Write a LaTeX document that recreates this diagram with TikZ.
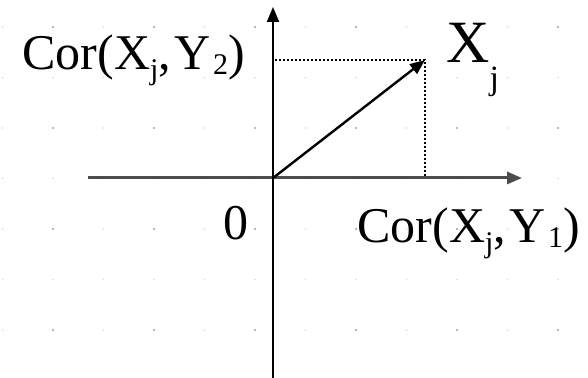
\documentclass[tikz,border=0pt]{standalone}
\usepackage{fontspec}
\setmainfont{Liberation Serif}
\usetikzlibrary{arrows.meta}
\newcommand{\lowsub}[2][0.2em]{\raisebox{-#1}{\fontsize{15}{15}\selectfont #2}}

\begin{document}
\begin{tikzpicture}[>={Triangle[length=7.5pt,width=6pt]},x=0.5pt,y=0.5pt,
  axisline/.style={->,line width=1pt},
  guide/.style={line width=0.7pt,dash pattern=on 1pt off 1pt},
  lbl/.style={inner sep=0pt,anchor=base west,font=\fontsize{25}{30}\selectfont}]
\fill[white] (0,0) rectangle (588,378);
\useasboundingbox (0,0) rectangle (588,378);
% drawing grid
\foreach \i in {0,...,11} \foreach \j in {0,...,7}
  \fill[black!14] ({2.5+50.5*\i},{351-50.5*\j}) circle (0.8);
\foreach \i in {0,...,5} \foreach \j in {0,...,3}
  \fill[black!35] ({53+101*\i},{351-101*\j}) circle (1.1);
\coordinate (O) at (273,200);
\coordinate (xlo) at (88,200);
\coordinate (xhi) at (522,200);
\coordinate (ylo) at (273,0);
\coordinate (yhi) at (273,371);
\coordinate (P) at (425,318);
\coordinate (Py) at (275,318);
\coordinate (Px) at (425,200);
\draw[axisline,black!70,line width=1.5pt] (xlo) -- (xhi);
\draw[axisline] (ylo) -- (yhi);
\draw[guide] (Py) -- (P) -- (Px);
\draw[->,line width=1.2pt] (O) -- (P);
\node[lbl] (cy) at (22,308) {Cor(X\lowsub{j},\kern2pt Y\kern1pt\lowsub[0.1em]{2})};
\node[lbl,font=\fontsize{30}{34}\selectfont] (xj) at (446,315) {X\lowsub[0.45em]{\fontsize{17}{17}\selectfont j}};
\node[lbl] (cx) at (357,135) {Cor(X\lowsub{j},\kern2pt Y\kern1pt\lowsub[0.1em]{1})};
\node[lbl,anchor=base] (zero) at (236,138) {0};
\end{tikzpicture}
\end{document}
